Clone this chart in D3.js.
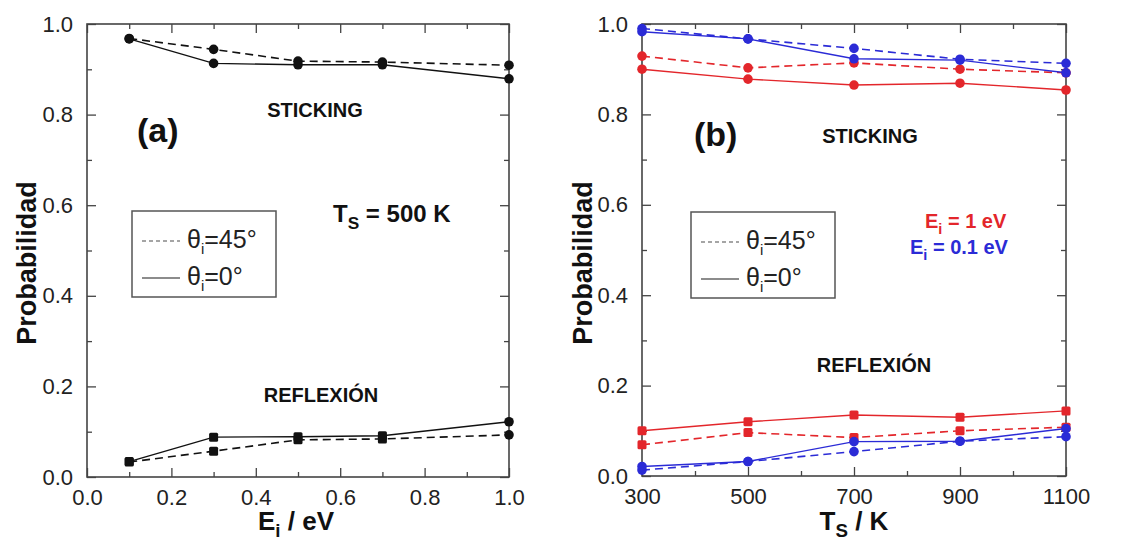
<!DOCTYPE html>
<html><head><meta charset="utf-8">
<script src="https://cdn.jsdelivr.net/npm/d3@7"></script>
<style>body{margin:0;background:#fff}svg{display:block}text{font-family:"Liberation Sans",Arial,Helvetica,sans-serif}</style>
</head><body><svg id="c" width="1132" height="540"></svg>
<script>
// ---- data ----
const energies = [0.1, 0.3, 0.5, 0.7, 1.0];
const stickA_0 = [0.967, 0.913, 0.910, 0.910, 0.879];
const stickA_45 = [0.968, 0.944, 0.918, 0.916, 0.909];
const reflA_0 = [0.034, 0.088, 0.089, 0.091, 0.122];
const reflA_45 = [0.033, 0.057, 0.082, 0.084, 0.093];
const reflA_markers = ["square", "square", "square", "square", "circle"];

const temps = [300, 500, 700, 900, 1100];
const stickB_1eV_0 = [0.900, 0.878, 0.865, 0.869, 0.854];
const stickB_1eV_45 = [0.929, 0.903, 0.914, 0.900, 0.892];
const stickB_01eV_0 = [0.983, 0.967, 0.923, 0.920, 0.892];
const stickB_01eV_45 = [0.990, 0.967, 0.946, 0.922, 0.913];
const reflB_1eV_0 = [0.100, 0.120, 0.135, 0.130, 0.144];
const reflB_1eV_45 = [0.069, 0.096, 0.085, 0.100, 0.108];
const reflB_01eV_0 = [0.021, 0.032, 0.076, 0.077, 0.105];
const reflB_01eV_45 = [0.013, 0.032, 0.054, 0.077, 0.087];

const yTicks = [0, 0.2, 0.4, 0.6, 0.8, 1.0];
const yMinor = [0.1, 0.3, 0.5, 0.7, 0.9];
const xTicksA = [0, 0.2, 0.4, 0.6, 0.8, 1.0];
const xMinorA = [0.1, 0.3, 0.5, 0.7, 0.9];
const xTicksB = [300, 500, 700, 900, 1100];
const xMinorB = [400, 600, 800, 1000];

const RED = "#e3262b", BLUE = "#2b2bd6", BLACK = "#111";
const svg = d3.select("#c");

function panel(opt) {
  const g = svg.append("g");
  const x = d3.scaleLinear().domain(opt.xDomain).range([opt.x0, opt.x1]);
  const y = d3.scaleLinear().domain([0, 1]).range([opt.y1, opt.y0]);
  const axCol = "#444";
  g.append("g").attr("transform", `translate(0,${opt.y1})`)
    .call(d3.axisBottom(x).tickValues(opt.xTicks).tickSize(-9).tickPadding(12).tickFormat(opt.xFmt));
  g.append("g").attr("transform", `translate(0,${opt.y1})`)
    .call(d3.axisBottom(x).tickValues(opt.xMinor).tickSize(-5).tickFormat(""));
  g.append("g").attr("transform", `translate(0,${opt.y0})`)
    .call(d3.axisTop(x).tickValues(opt.xTicks).tickSize(-9).tickFormat(""));
  g.append("g").attr("transform", `translate(0,${opt.y0})`)
    .call(d3.axisTop(x).tickValues(opt.xMinor).tickSize(-5).tickFormat(""));
  g.append("g").attr("transform", `translate(${opt.x0},0)`)
    .call(d3.axisLeft(y).tickValues(yTicks).tickSize(-9).tickPadding(14).tickFormat(d3.format(".1f")));
  g.append("g").attr("transform", `translate(${opt.x0},0)`)
    .call(d3.axisLeft(y).tickValues(yMinor).tickSize(-5).tickFormat(""));
  g.append("g").attr("transform", `translate(${opt.x1},0)`)
    .call(d3.axisRight(y).tickValues(yTicks).tickSize(-9).tickFormat(""));
  g.append("g").attr("transform", `translate(${opt.x1},0)`)
    .call(d3.axisRight(y).tickValues(yMinor).tickSize(-5).tickFormat(""));
  g.selectAll(".domain").remove();
  g.selectAll(".tick line").attr("stroke", axCol).attr("stroke-width", 1.3);
  g.selectAll(".tick text").attr("font-size", 22).attr("fill", "#222")
    .style("font-family", "'Liberation Sans',Arial,sans-serif");
  g.append("rect").attr("x", opt.x0).attr("y", opt.y0)
    .attr("width", opt.x1 - opt.x0).attr("height", opt.y1 - opt.y0)
    .attr("fill", "none").attr("stroke", axCol).attr("stroke-width", 1.6);

  const line = d3.line().x(d => x(d[0])).y(d => y(d[1]));
  opt.series.forEach(s => {
    const pts = opt.xs.map((xv, i) => [xv, s.values[i], s.markers ? s.markers[i] : s.marker]);
    g.append("path").datum(pts).attr("d", line).attr("fill", "none")
      .attr("stroke", s.color).attr("stroke-width", s.dash ? 1.6 : 1.4)
      .attr("stroke-dasharray", s.dash ? "8,5" : null);
    pts.forEach(p => {
      if (p[2] === "square") {
        g.append("rect").attr("x", x(p[0]) - 4.5).attr("y", y(p[1]) - 4.5)
          .attr("width", 9).attr("height", 9).attr("rx", 1.5).attr("fill", s.color);
      } else {
        g.append("circle").attr("cx", x(p[0])).attr("cy", y(p[1])).attr("r", 4.8).attr("fill", s.color);
      }
    });
  });
  return {g, x, y};
}

panel({
  x0: 87, x1: 509, y0: 24, y1: 477, xDomain: [0, 1], xs: energies,
  xTicks: xTicksA, xMinor: xMinorA, xFmt: d3.format(".1f"),
  series: [
    {values: stickA_45, color: BLACK, dash: true, marker: "circle"},
    {values: stickA_0, color: BLACK, dash: false, marker: "circle"},
    {values: reflA_45, color: BLACK, dash: true, markers: reflA_markers},
    {values: reflA_0, color: BLACK, dash: false, markers: reflA_markers}
  ]
});
panel({
  x0: 642, x1: 1066, y0: 24, y1: 476, xDomain: [300, 1100], xs: temps,
  xTicks: xTicksB, xMinor: xMinorB, xFmt: d3.format("d"),
  series: [
    {values: stickB_1eV_45, color: RED, dash: true, marker: "circle"},
    {values: stickB_1eV_0, color: RED, dash: false, marker: "circle"},
    {values: stickB_01eV_45, color: BLUE, dash: true, marker: "circle"},
    {values: stickB_01eV_0, color: BLUE, dash: false, marker: "circle"},
    {values: reflB_1eV_45, color: RED, dash: true, marker: "square"},
    {values: reflB_1eV_0, color: RED, dash: false, marker: "square"},
    {values: reflB_01eV_45, color: BLUE, dash: true, marker: "circle"},
    {values: reflB_01eV_0, color: BLUE, dash: false, marker: "circle"}
  ]
});

// ---- text helpers ----
function sub(parent, x, y, main, subTxt, rest, size, color, anchor) {
  const t = parent.append("text").attr("x", x).attr("y", y).attr("font-size", size)
    .attr("font-weight", "bold").attr("fill", color || "#111").attr("text-anchor", anchor || "start");
  t.append("tspan").text(main);
  t.append("tspan").attr("dy", size * 0.28).attr("font-size", size * 0.72).text(subTxt);
  t.append("tspan").attr("dy", -size * 0.28).text(rest);
  return t;
}
function label(x, y, txt, size, opts) {
  opts = opts || {};
  return svg.append("text").attr("x", x).attr("y", y).attr("font-size", size)
    .attr("font-weight", opts.weight || "bold").attr("fill", opts.color || "#111")
    .attr("text-anchor", opts.anchor || "start").text(txt);
}

// axis titles
sub(svg, 296, 530, "E", "i", " / eV", 26, "#111", "middle");
sub(svg, 854, 530, "T", "S", " / K", 26, "#111", "middle");
[[36, 263], [592, 263]].forEach(([px, py]) => {
  svg.append("text").attr("transform", `translate(${px},${py}) rotate(-90)`)
    .attr("text-anchor", "middle").attr("font-size", 27).attr("font-weight", "bold")
    .attr("fill", "#111").text("Probabilidad");
});

// panel annotations
label(137, 142, "(a)", 34);
label(315, 117, "STICKING", 20, {anchor: "middle"});
label(321, 402, "REFLEXIÓN", 20, {anchor: "middle"});
sub(svg, 333, 222, "T", "S", " = 500 K", 24);

label(694, 146, "(b)", 34);
label(870, 143, "STICKING", 20, {anchor: "middle"});
label(874, 372, "REFLEXIÓN", 20, {anchor: "middle"});
sub(svg, 925, 228, "E", "i", " = 1 eV", 20, RED);
sub(svg, 910, 254, "E", "i", " = 0.1 eV", 20, BLUE);

// legends
function legend(bx, by) {
  const g = svg.append("g");
  g.append("rect").attr("x", bx).attr("y", by).attr("width", 144).attr("height", 86)
    .attr("fill", "#fff").attr("stroke", "#555").attr("stroke-width", 1.5);
  const rows = [{dash: "4,3", col: "#888", txt: "45°", dy: 30}, {dash: null, col: "#666", txt: "0°", dy: 67}];
  rows.forEach(r => {
    g.append("line").attr("x1", bx + 10).attr("x2", bx + 48).attr("y1", by + r.dy).attr("y2", by + r.dy)
      .attr("stroke", r.col).attr("stroke-width", 1.4).attr("stroke-dasharray", r.dash);
    const t = g.append("text").attr("x", bx + 55).attr("y", by + r.dy + 7).attr("font-size", 25).attr("fill", "#222");
    t.append("tspan").text("θ");
    t.append("tspan").attr("dy", 6).attr("font-size", 15).text("i");
    t.append("tspan").attr("dy", -6).text("=" + r.txt);
  });
}
legend(132, 211);
legend(691, 212);
</script>
</body></html>
